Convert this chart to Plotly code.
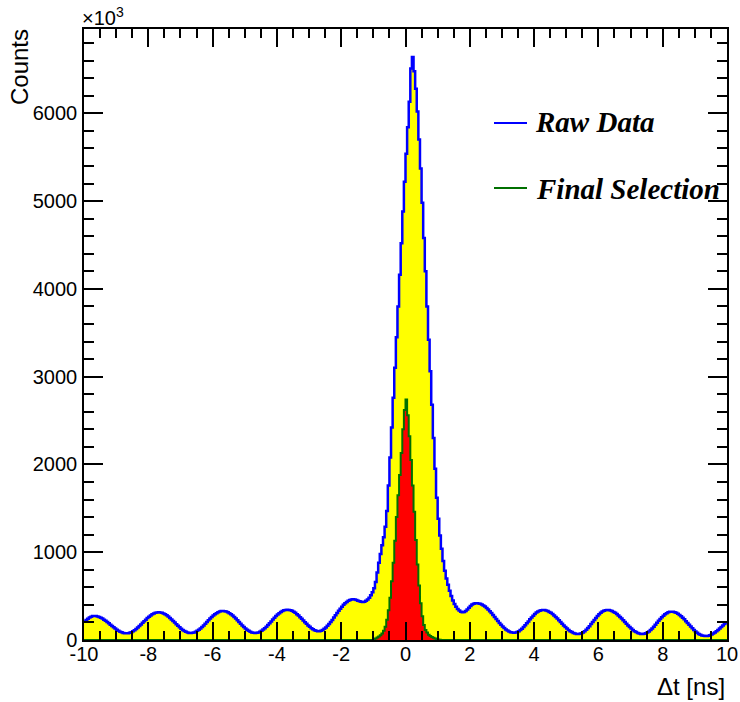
import numpy as np
import plotly.graph_objects as go

# ---------------- data ----------------
x_min, x_max, n_bins = -10.0, 10.0, 400   # histogram binning (0.05 ns bins)

raw_counts = [
    212, 228, 243, 256, 266, 272,
    273, 272, 268, 262, 254, 244, 232, 219, 205, 190, 175, 159, 144, 130, 117, 105, 95, 87, 81, 77, 76,
    78, 82, 89, 99, 111, 125, 141, 159, 177, 196, 214, 232, 250, 266, 280, 292, 302, 309, 314, 315,
    314, 309, 302, 293, 281, 267, 251, 234, 216, 198, 179, 161, 144, 128, 114, 102, 93, 86, 81, 80,
    82, 86, 94, 104, 117, 132, 148, 166, 186, 205, 225, 244, 262, 279, 293, 306, 316, 324, 329, 330,
    328, 324, 316, 306, 293, 278, 262, 244, 224, 205, 185, 166, 148, 132, 117, 104, 94, 86, 82, 80,
    82, 86, 94, 105, 119, 135, 152, 172, 192, 212, 233, 253, 273, 290, 306, 320, 331, 338, 343, 345,
    343, 339, 332, 321, 309, 294, 278, 260, 241, 222, 203, 184, 166, 150, 135, 122, 112, 105, 99,
    101, 106, 115, 128, 143, 163, 182, 205, 229, 255, 281, 307, 333, 357, 380, 401, 419, 434, 447, 456, 461, 463,
    461, 455, 447, 440, 435, 433,
    437, 447, 462, 482, 510, 545, 590, 660, 770, 880, 980, 1080, 1170, 1290, 1470, 1760,
    2080, 2420, 2760, 3100, 3450, 3800, 4160, 4520, 4880, 5220, 5540, 5840, 6130, 6510, 6640,
    6480, 6280, 6020, 5700, 5370, 4980, 4580, 4200, 3800, 3420, 3060, 2680, 2300, 1950, 1620,
    1380, 1190, 1040, 900, 790, 700, 630, 560, 500, 450, 410, 378, 352, 335, 322, 317, 318,
    330, 348, 368, 388, 403, 413, 418, 419,
    416, 412, 404, 394, 381, 365, 347, 328, 307, 285, 262, 239, 216, 194, 173, 154, 136, 120, 107, 96, 89, 85, 83,
    85, 91, 100, 113, 129, 148, 168, 190, 212, 235, 257, 277, 296, 312, 325, 334, 340, 342,
    341, 336, 330, 320, 309, 295, 279, 262, 244, 224, 205, 186, 166, 148, 131, 115, 101, 90, 80, 74, 69, 68,
    70, 76, 86, 100, 117, 137, 158, 181, 205, 229, 252, 274, 293, 310, 324, 334, 340, 342,
    341, 336, 330, 320, 309, 295, 279, 262, 244, 224, 205, 186, 166, 148, 131, 115, 101, 90, 80, 74, 69, 68,
    70, 76, 85, 98, 114, 132, 152, 173, 196, 218, 239, 259, 277, 293, 306, 315, 321, 323,
    321, 317, 309, 299, 286, 271, 254, 235, 215, 194, 174, 153, 133, 115, 97, 82, 69, 59, 51, 47, 45,
    46, 49, 55, 63, 73, 85, 99, 114, 131, 148, 166, 183, 198,
]

sel_peak_counts = [
    8, 18, 28, 40, 55, 75, 105, 150, 230, 340, 480, 670, 880, 1130, 1400, 1650, 1880, 2130, 2400, 2620,
    2740, 2560, 2320, 2050, 1760, 1460, 1140, 860, 620, 420, 270, 170, 115, 85, 60, 45, 33, 25, 18, 12, 7, 3,
]
sel_counts = [0] * 180 + sel_peak_counts + [0] * 178

y_tick_vals = [0, 1000, 2000, 3000, 4000, 5000, 6000]
y_tick_text = ["0", "1000", "2000", "3000", "4000", "5000", "6000"]
x_tick_vals = [-10, -8, -6, -4, -2, 0, 2, 4, 6, 8, 10]
x_tick_text = ["-10", "-8", "-6", "-4", "-2", "0", "2", "4", "6", "8", "10"]
legend_labels = ["Raw Data", "Final Selection"]

assert len(raw_counts) == n_bins, len(raw_counts)
assert len(sel_counts) == n_bins, len(sel_counts)

# ---------------- figure ----------------
edges = np.linspace(x_min, x_max, n_bins + 1)
raw_y = list(raw_counts) + [raw_counts[-1]]
sel_y = list(sel_counts) + [sel_counts[-1]]

BLUE = "#0000ff"
GREEN = "#007000"

fig = go.Figure()
fig.add_trace(go.Scatter(
    x=edges, y=raw_y, mode="lines", line=dict(shape="hv", color=BLUE, width=2.5),
    fill="tozeroy", fillcolor="#ffff00", name=legend_labels[0], showlegend=False,
))
fig.add_trace(go.Scatter(
    x=edges, y=sel_y, mode="lines", line=dict(shape="hv", color=GREEN, width=2),
    fill="tozeroy", fillcolor="#ff0000", name=legend_labels[1], showlegend=False,
))

W, H = 740, 702
L, R, T, B = 84, 13, 29, 62
pw, ph = W - L - R, H - T - B

def px(xp):
    return (xp - L) / pw

def py(yp):
    return (H - B - yp) / ph

axis_common = dict(
    showgrid=False, zeroline=False, showline=True, linecolor="black", linewidth=1.5,
    mirror="allticks", ticks="inside", tickcolor="black", tickwidth=1.5, automargin=False,
    tickfont=dict(family="Liberation Sans, Arial, sans-serif", size=20, color="black"),
)

fig.update_xaxes(
    range=[x_min, x_max], tickmode="array", tickvals=x_tick_vals, ticktext=x_tick_text,
    ticklen=18, ticklabelstandoff=-5,
    minor=dict(ticks="inside", ticklen=9, dtick=0.5, tickcolor="black", tickwidth=1.5, showgrid=False),
    **axis_common,
)
fig.update_yaxes(
    range=[0, 6960], tickmode="array", tickvals=y_tick_vals, ticktext=y_tick_text,
    ticklen=19, ticklabelstandoff=1,
    minor=dict(ticks="inside", ticklen=10, dtick=200, tickcolor="black", tickwidth=1.5, showgrid=False),
    **axis_common,
)

annotations = [
    dict(text="Counts", textangle=-90, x=px(19), y=py(27), xref="paper", yref="paper",
         xanchor="center", yanchor="top", showarrow=False,
         font=dict(family="Liberation Sans, Arial, sans-serif", size=24, color="black")),
    dict(text="\u0394t [ns]", x=1.0, y=py(686), xref="paper", yref="paper",
         xanchor="right", yanchor="middle", showarrow=False,
         font=dict(family="Liberation Sans, Arial, sans-serif", size=24, color="black")),
    dict(text="\u00d710<sup>3</sup>", x=px(80), y=py(16), xref="paper", yref="paper",
         xanchor="left", yanchor="middle", showarrow=False,
         font=dict(family="Liberation Sans, Arial, sans-serif", size=20, color="black")),
    dict(text="<b><i>" + legend_labels[0] + "</i></b>", x=px(533), y=py(122), xref="paper", yref="paper",
         xanchor="left", yanchor="middle", showarrow=False,
         font=dict(family="Liberation Serif, Times New Roman, serif", size=29, color="black")),
    dict(text="<b><i>" + legend_labels[1] + "</i></b>", x=px(534), y=py(189), xref="paper", yref="paper",
         xanchor="left", yanchor="middle", showarrow=False,
         font=dict(family="Liberation Serif, Times New Roman, serif", size=29, color="black")),
]

shapes = [
    dict(type="line", xref="paper", yref="paper", x0=px(494), x1=px(527), y0=py(123), y1=py(123),
         line=dict(color=BLUE, width=2)),
    dict(type="line", xref="paper", yref="paper", x0=px(494), x1=px(527), y0=py(188), y1=py(188),
         line=dict(color=GREEN, width=2)),
]

fig.update_layout(
    width=W, height=H, margin=dict(l=L, r=R, t=T, b=B, autoexpand=False),
    paper_bgcolor="white", plot_bgcolor="white",
    annotations=annotations, shapes=shapes, showlegend=False,
)

fig.write_html("out.html")
